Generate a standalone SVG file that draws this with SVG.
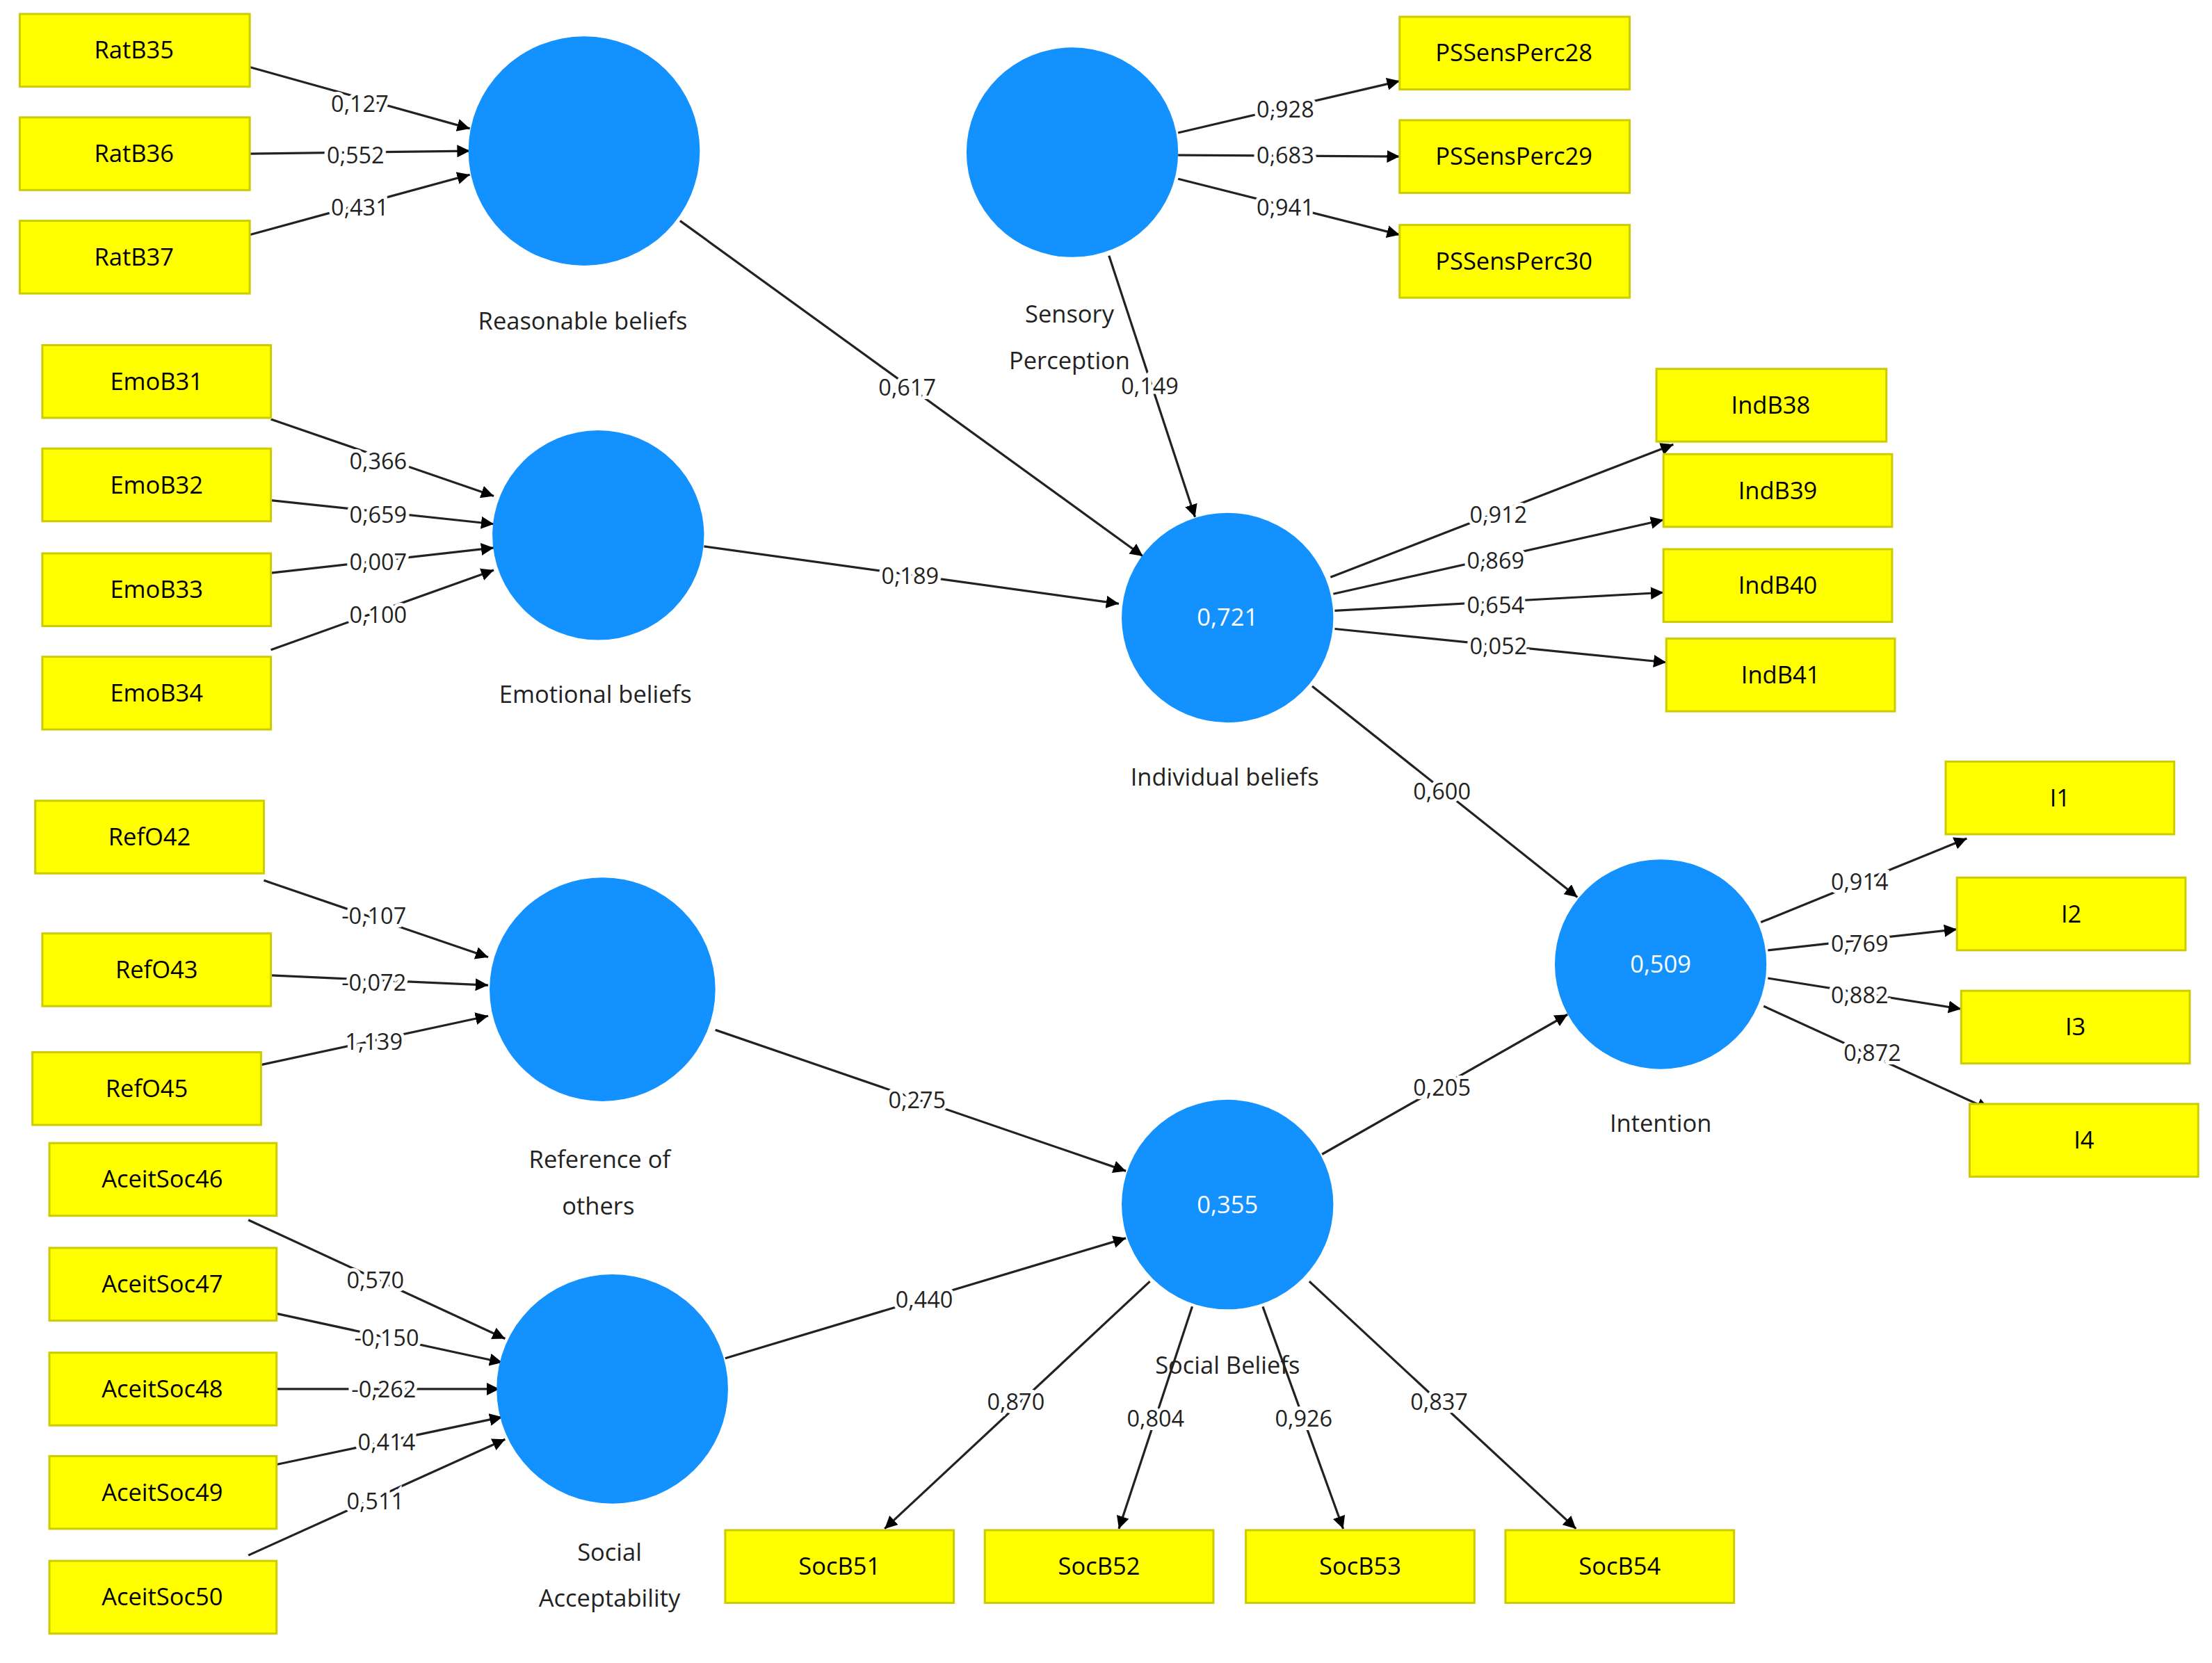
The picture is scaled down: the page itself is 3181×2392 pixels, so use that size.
<svg xmlns="http://www.w3.org/2000/svg" width="3181" height="2392" viewBox="0 0 3181 2392">
<style>
.b{fill:#ffff00;stroke:#cccc00;stroke-width:1.5}
.bt{font-family:"Open Sans","Noto Sans",sans-serif;font-size:17px;text-anchor:middle;fill:#000}
.c{fill:#1391ff}
.ct{font-family:"Open Sans","Noto Sans",sans-serif;font-size:17px;text-anchor:middle;fill:#fff}
.lt{font-family:"Open Sans","Noto Sans",sans-serif;font-size:17px;text-anchor:middle;fill:#222}
.e{stroke:#222;stroke-width:1.6;fill:none;marker-end:url(#a)}
.el{font-family:"Open Sans","Noto Sans",sans-serif;font-size:16px;text-anchor:middle;fill:#222;stroke:#fff;stroke-width:5;paint-order:stroke}
</style>
<defs><marker id="a" viewBox="0 0 10 10" refX="10" refY="5" markerWidth="9" markerHeight="9" markerUnits="userSpaceOnUse" orient="auto"><path d="M0,0L10,5L0,10z" fill="#000"/></marker></defs>
<rect width="3181" height="2392" fill="#fff"/>
<g transform="scale(2.029 2.01)">
<g id="connectors">
<line class="e" x1="177" y1="48" x2="333" y2="92"/><line class="e" x1="177" y1="110" x2="333" y2="108"/><line class="e" x1="177" y1="168" x2="333" y2="125"/>
<line class="e" x1="835" y1="95" x2="992" y2="58"/><line class="e" x1="835" y1="111" x2="992" y2="112"/><line class="e" x1="835" y1="128" x2="992" y2="168"/>
<line class="e" x1="192" y1="300" x2="350" y2="355"/><line class="e" x1="192" y1="358" x2="350" y2="375"/><line class="e" x1="192" y1="410" x2="350" y2="392"/><line class="e" x1="192" y1="465" x2="350" y2="408"/>
<line class="e" x1="482" y1="158" x2="810" y2="398"/><line class="e" x1="786" y1="183" x2="847" y2="370"/><line class="e" x1="499" y1="391" x2="793" y2="432"/>
<line class="e" x1="943" y1="413" x2="1186" y2="318"/><line class="e" x1="945" y1="425" x2="1179" y2="372"/><line class="e" x1="946" y1="437" x2="1179" y2="424"/><line class="e" x1="946" y1="450" x2="1181" y2="474"/>
<line class="e" x1="930" y1="491" x2="1118" y2="642"/>
<line class="e" x1="187" y1="630" x2="346" y2="685"/><line class="e" x1="192" y1="698" x2="346" y2="705"/><line class="e" x1="185" y1="762" x2="346" y2="727"/>
<line class="e" x1="507" y1="737" x2="798" y2="838"/>
<line class="e" x1="176" y1="873" x2="358" y2="958"/><line class="e" x1="196" y1="940" x2="356" y2="975"/><line class="e" x1="196" y1="994" x2="354" y2="994"/><line class="e" x1="196" y1="1048" x2="356" y2="1014"/><line class="e" x1="176" y1="1113" x2="358" y2="1030"/>
<line class="e" x1="514" y1="972" x2="798" y2="886"/><line class="e" x1="937" y1="826" x2="1111" y2="726"/>
<line class="e" x1="815" y1="917" x2="627" y2="1094"/><line class="e" x1="845" y1="935" x2="793" y2="1094"/><line class="e" x1="895" y1="935" x2="952" y2="1094"/><line class="e" x1="928" y1="917" x2="1117" y2="1094"/>
<line class="e" x1="1248" y1="660" x2="1394" y2="600"/><line class="e" x1="1253" y1="680" x2="1387" y2="665"/><line class="e" x1="1253" y1="700" x2="1390" y2="722"/><line class="e" x1="1250" y1="720" x2="1410" y2="794"/>
<g>
<text class="el" x="255" y="80">0,127</text><text class="el" x="252" y="117">0,552</text><text class="el" x="255" y="154">0,431</text>
<text class="el" x="911" y="84">0,928</text><text class="el" x="911" y="117">0,683</text><text class="el" x="911" y="154">0,941</text>
<text class="el" x="268" y="336">0,366</text><text class="el" x="268" y="374">0,659</text><text class="el" x="268" y="408">0,007</text><text class="el" x="268" y="446">0,100</text>
<text class="el" x="643" y="283">0,617</text><text class="el" x="815" y="282">0,149</text><text class="el" x="645" y="418">0,189</text>
<text class="el" x="1062" y="374">0,912</text><text class="el" x="1060" y="407">0,869</text><text class="el" x="1060" y="439">0,654</text><text class="el" x="1062" y="468">0,052</text>
<text class="el" x="1022" y="572">0,600</text>
<text class="el" x="265" y="661">-0,107</text><text class="el" x="265" y="709">-0,072</text><text class="el" x="265" y="751">1,139</text>
<text class="el" x="650" y="793">0,275</text>
<text class="el" x="266" y="922">0,570</text><text class="el" x="274" y="963">-0,150</text><text class="el" x="272" y="1000">-0,262</text><text class="el" x="274" y="1038">0,414</text><text class="el" x="266" y="1080">0,511</text>
<text class="el" x="655" y="936">0,440</text><text class="el" x="1022" y="784">0,205</text>
<text class="el" x="720" y="1009">0,870</text><text class="el" x="819" y="1021">0,804</text><text class="el" x="924" y="1021">0,926</text><text class="el" x="1020" y="1009">0,837</text>
<text class="el" x="1318" y="637">0,914</text><text class="el" x="1318" y="681">0,769</text><text class="el" x="1318" y="718">0,882</text><text class="el" x="1327" y="759">0,872</text>
</g>
</g>
<g id="reasonable"><circle class="c" cx="414" cy="108" r="82"/><text class="lt" x="413" y="236">Reasonable beliefs</text></g>
<g id="sensory"><circle class="c" cx="760" cy="109" r="75"/><text class="lt" x="758" y="231">Sensory</text><text class="lt" x="758" y="264">Perception</text></g>
<g id="emotional"><circle class="c" cx="424" cy="383" r="75"/><text class="lt" x="422" y="503">Emotional beliefs</text></g>
<g id="individual"><circle class="c" cx="870" cy="442" r="75"/><text class="ct" x="870" y="448">0,721</text><text class="lt" x="868" y="562">Individual beliefs</text></g>
<g id="reference"><circle class="c" cx="427" cy="708" r="80"/><text class="lt" x="425" y="836">Reference of</text><text class="lt" x="424" y="869">others</text></g>
<g id="acceptability"><circle class="c" cx="434" cy="994" r="82"/><text class="lt" x="432" y="1117">Social</text><text class="lt" x="432" y="1150">Acceptability</text></g>
<g id="socialbeliefs"><circle class="c" cx="870" cy="862" r="75"/><text class="ct" x="870" y="868">0,355</text><text class="lt" x="870" y="983">Social Beliefs</text></g>
<g id="intention"><circle class="c" cx="1177" cy="690" r="75"/><text class="ct" x="1177" y="696">0,509</text><text class="lt" x="1177" y="810">Intention</text></g>
<g id="RatB35"><rect class="b" x="14" y="10" width="163" height="52"/><text class="bt" x="95" y="42">RatB35</text></g>
<g id="RatB36"><rect class="b" x="14" y="84" width="163" height="52"/><text class="bt" x="95" y="116">RatB36</text></g>
<g id="RatB37"><rect class="b" x="14" y="158" width="163" height="52"/><text class="bt" x="95" y="190">RatB37</text></g>
<g id="PS28"><rect class="b" x="992" y="12" width="163" height="52"/><text class="bt" x="1073" y="44">PSSensPerc28</text></g>
<g id="PS29"><rect class="b" x="992" y="86" width="163" height="52"/><text class="bt" x="1073" y="118">PSSensPerc29</text></g>
<g id="PS30"><rect class="b" x="992" y="161" width="163" height="52"/><text class="bt" x="1073" y="193">PSSensPerc30</text></g>
<g id="EmoB31"><rect class="b" x="30" y="247" width="162" height="52"/><text class="bt" x="111" y="279">EmoB31</text></g>
<g id="EmoB32"><rect class="b" x="30" y="321" width="162" height="52"/><text class="bt" x="111" y="353">EmoB32</text></g>
<g id="EmoB33"><rect class="b" x="30" y="396" width="162" height="52"/><text class="bt" x="111" y="428">EmoB33</text></g>
<g id="EmoB34"><rect class="b" x="30" y="470" width="162" height="52"/><text class="bt" x="111" y="502">EmoB34</text></g>
<g id="IndB38"><rect class="b" x="1174" y="264" width="163" height="52"/><text class="bt" x="1255" y="296">IndB38</text></g>
<g id="IndB39"><rect class="b" x="1179" y="325" width="162" height="52"/><text class="bt" x="1260" y="357">IndB39</text></g>
<g id="IndB40"><rect class="b" x="1179" y="393" width="162" height="52"/><text class="bt" x="1260" y="425">IndB40</text></g>
<g id="IndB41"><rect class="b" x="1181" y="457" width="162" height="52"/><text class="bt" x="1262" y="489">IndB41</text></g>
<g id="RefO42"><rect class="b" x="25" y="573" width="162" height="52"/><text class="bt" x="106" y="605">RefO42</text></g>
<g id="RefO43"><rect class="b" x="30" y="668" width="162" height="52"/><text class="bt" x="111" y="700">RefO43</text></g>
<g id="RefO45"><rect class="b" x="23" y="753" width="162" height="52"/><text class="bt" x="104" y="785">RefO45</text></g>
<g id="AceitSoc46"><rect class="b" x="35" y="818" width="161" height="52"/><text class="bt" x="115" y="850">AceitSoc46</text></g>
<g id="AceitSoc47"><rect class="b" x="35" y="893" width="161" height="52"/><text class="bt" x="115" y="925">AceitSoc47</text></g>
<g id="AceitSoc48"><rect class="b" x="35" y="968" width="161" height="52"/><text class="bt" x="115" y="1000">AceitSoc48</text></g>
<g id="AceitSoc49"><rect class="b" x="35" y="1042" width="161" height="52"/><text class="bt" x="115" y="1074">AceitSoc49</text></g>
<g id="AceitSoc50"><rect class="b" x="35" y="1117" width="161" height="52"/><text class="bt" x="115" y="1149">AceitSoc50</text></g>
<g id="I1"><rect class="b" x="1379" y="545" width="162" height="52"/><text class="bt" x="1460" y="577">I1</text></g>
<g id="I2"><rect class="b" x="1387" y="628" width="162" height="52"/><text class="bt" x="1468" y="660">I2</text></g>
<g id="I3"><rect class="b" x="1390" y="709" width="162" height="52"/><text class="bt" x="1471" y="741">I3</text></g>
<g id="I4"><rect class="b" x="1396" y="790" width="162" height="52"/><text class="bt" x="1477" y="822">I4</text></g>
<g id="SocB51"><rect class="b" x="514" y="1095" width="162" height="52"/><text class="bt" x="595" y="1127">SocB51</text></g>
<g id="SocB52"><rect class="b" x="698" y="1095" width="162" height="52"/><text class="bt" x="779" y="1127">SocB52</text></g>
<g id="SocB53"><rect class="b" x="883" y="1095" width="162" height="52"/><text class="bt" x="964" y="1127">SocB53</text></g>
<g id="SocB54"><rect class="b" x="1067" y="1095" width="162" height="52"/><text class="bt" x="1148" y="1127">SocB54</text></g>
</g>
</svg>
